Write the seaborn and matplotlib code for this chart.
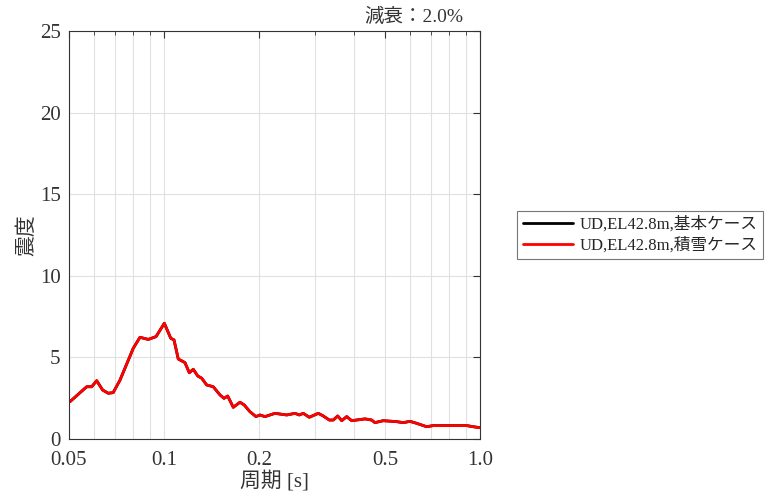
import numpy as np
import pandas as pd
import matplotlib
matplotlib.use('Agg')
import matplotlib.pyplot as plt
import matplotlib.ticker as mticker
import seaborn as sns

# period [s] and response
period = [0.0504, 0.0569, 0.059, 0.0612, 0.0639, 0.0666, 0.069, 0.0725, 0.0799,
          0.0839, 0.0891, 0.0943, 0.1002, 0.105, 0.1075, 0.1109, 0.1164, 0.1202,
          0.1237, 0.1278, 0.1316, 0.1364, 0.1431, 0.1503, 0.1548, 0.159, 0.1656,
          0.1739, 0.1794, 0.187, 0.1954, 0.2011, 0.2086, 0.2244, 0.2445, 0.2597,
          0.2679, 0.2758, 0.2882, 0.3077, 0.319, 0.3335, 0.3433, 0.3545, 0.365,
          0.3785, 0.3925, 0.4325, 0.454, 0.465, 0.494, 0.545, 0.572, 0.600,
          0.630, 0.678, 0.711, 0.907, 0.952, 1.0]
intensity = [2.29, 3.2, 3.2, 3.57, 3.0, 2.8, 2.84, 3.6, 5.56,
             6.23, 6.1, 6.27, 7.09, 6.17, 6.07, 4.9, 4.68, 4.06,
             4.27, 3.86, 3.72, 3.31, 3.2, 2.7, 2.49, 2.63, 1.94,
             2.25, 2.08, 1.67, 1.37, 1.47, 1.37, 1.57, 1.47, 1.57,
             1.47, 1.57, 1.33, 1.57, 1.41, 1.16, 1.16, 1.41, 1.12,
             1.37, 1.12, 1.23, 1.16, 1.0, 1.12, 1.06, 1.0, 1.08,
             0.96, 0.75, 0.82, 0.82, 0.75, 0.69]
# base case sits under the snow case in the picture
base_case = intensity
snow_case = intensity
labels = ['UD,EL42.8m,基本ケース', 'UD,EL42.8m,積雪ケース']
xticks = [0.05, 0.1, 0.2, 0.5, 1.0]
xticklabels = ['0.05', '0.1', '0.2', '0.5', '1.0']

sns.set_style('white')
plt.rcParams['font.family'] = ['Liberation Serif', 'Noto Sans CJK JP', 'DejaVu Sans']

fig = plt.figure(figsize=(7.68, 4.96), dpi=100)
ax = fig.add_axes([0.0898, 0.115, 0.5352, 0.8225])

sns.lineplot(x=period, y=base_case, color='black', lw=2, label=labels[0], ax=ax)
sns.lineplot(x=period, y=snow_case, color='red', lw=2, label=labels[1], ax=ax)

ax.set_xscale('log')
ax.set_xlim(0.05, 1.0)
ax.set_ylim(0, 25)
ax.set_xticks(xticks)
ax.set_xticklabels(xticklabels)
ax.xaxis.set_minor_locator(mticker.LogLocator(base=10, subs=np.arange(2, 10)))
ax.xaxis.set_minor_formatter(mticker.NullFormatter())
ax.set_yticks([0, 5, 10, 15, 20, 25])
ax.grid(True, which='both', color='#e0e0e0', lw=0.8)
ax.tick_params(which='both', direction='in', top=True, right=True, labelsize=15,
               color='#333333', labelcolor='#333333')
ax.tick_params(axis='x', pad=9)
ax.tick_params(axis='y', pad=6)
ax.tick_params(which='major', length=5)
ax.tick_params(which='minor', length=3)
for s in ax.spines.values():
    s.set_color('#333333')
    s.set_linewidth(0.8)

ax.set_xlabel('周期 [s]', fontsize=15, color='#333333', labelpad=0)
ax.set_ylabel('震度', fontsize=15, color='#333333', labelpad=2)
ax.text(0.959, 1.012, '減衰：2.0%', transform=ax.transAxes, ha='right', va='bottom',
        fontsize=14, color='#333333')

leg = ax.legend(loc='center left', bbox_to_anchor=(1.07, 0.5), fontsize=12,
                frameon=True, fancybox=False, edgecolor='#555555',
                handlelength=3, borderpad=0.35, labelspacing=0.25, handletextpad=0.4)
leg.get_frame().set_linewidth(0.8)

fig.savefig('out.png', dpi=100)
